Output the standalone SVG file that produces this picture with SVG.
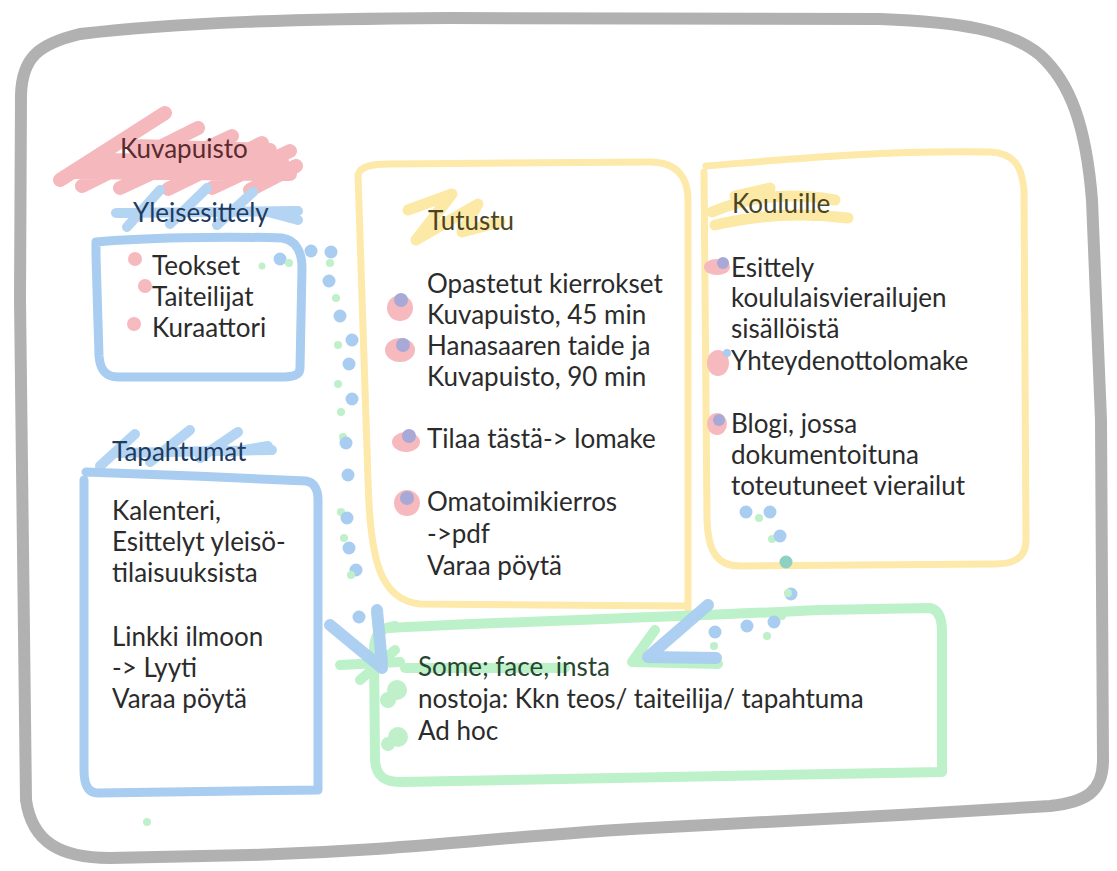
<svg xmlns="http://www.w3.org/2000/svg" width="1117" height="871" viewBox="0 0 1117 871">
<style>
text{font-family:Lato,"Noto Sans","Liberation Sans",sans-serif;font-size:26px;fill:#2b2b2b}
.frame{fill:none;stroke:#b1b1b1;stroke-width:12;stroke-linejoin:round;stroke-linecap:round}
.blue{fill:none;stroke:#a9ccf1;stroke-width:9;stroke-linejoin:round;stroke-linecap:round}
.yel{fill:none;stroke:#fde9a9;stroke-width:7;stroke-linejoin:round;stroke-linecap:round}
.grn{fill:none;stroke:#bdf1c9;stroke-width:10;stroke-linejoin:round;stroke-linecap:round}
.pinks{fill:none;stroke:#f5b9bd;stroke-width:14;stroke-linejoin:round;stroke-linecap:round}
.blues{fill:none;stroke:#b4d4f3;stroke-width:10;stroke-linejoin:round;stroke-linecap:round}
.yels{fill:none;stroke:#fde9a6;stroke-width:11;stroke-linejoin:round;stroke-linecap:round}
.pk{fill:#f6b9be}
.pu{fill:#a8a9d7}
.bd{fill:#a9ccf1}
.gd{fill:#bff0c9}
.arr{fill:none;stroke:#a9ccf1;stroke-width:12;stroke-linecap:round;stroke-linejoin:round;opacity:.95}
.garr{fill:none;stroke:#bdf1c9;stroke-width:10;stroke-linecap:round;stroke-linejoin:round}
</style>

<rect width="1117" height="871" fill="#ffffff"/>

<g id="frame">
<path class="frame" d="M 20,300 L 21,95 C 22,58 38,44 80,34 C 180,22 300,19 450,18 L 880,19 C 960,22 1010,30 1040,55 C 1070,82 1086,125 1092,200 L 1101,420 L 1103,760 C 1103,792 1086,802 1050,806 L 900,815 L 650,828 C 500,836 420,850 250,855 L 110,858 C 60,858 32,842 26,800 Z"/>
</g>

<g id="title">
<path class="pinks" d="M 60,180 L 165,113 M 82,186 L 198,128 M 120,188 L 232,136 M 168,189 L 262,143 M 212,188 L 290,151 M 250,190 L 296,166 M 75,172 L 290,174 M 100,160 L 282,161 M 135,146 L 270,150"/>
<text x="120" y="158" style="fill:#5b2a2e">Kuvapuisto</text>
</g>

<g id="yleisesittely">
<path class="blues" d="M 116,213 L 298,211 M 127,227 L 160,190 M 170,224 L 207,188 M 217,225 L 253,192 M 268,212 L 298,220"/>
<text x="133" y="222" style="fill:#1f3b5e">Yleisesittely</text>
<path class="blue" d="M 96,242 C 140,238 220,236 282,238 C 296,240 302,252 302,268 L 300,368 C 300,375 294,377 284,377 L 118,377 C 104,377 100,368 99,356 L 96,256 Z"/>
<circle class="pk" cx="135" cy="259" r="7"/>
<circle class="pk" cx="145" cy="286" r="7"/>
<circle class="pk" cx="134" cy="324" r="7"/>
<text x="152" y="275">Teokset</text>
<text x="152" y="306">Taiteilijat</text>
<text x="152" y="337">Kuraattori</text>
</g>

<g id="tapahtumat">
<path class="blues" d="M 118,453 L 272,450 M 100,466 L 135,434 M 150,462 L 190,430 M 200,458 L 238,432 M 232,452 L 268,446"/>
<text x="112" y="461" style="fill:#1f3b5e">Tapahtumat</text>
<path class="blue" d="M 86,472 C 150,474 240,478 306,481 C 314,482 318,490 318,500 L 318,790 L 98,793 C 88,793 84,785 84,770 L 84,480"/>
<text x="112" y="520">Kalenteri,</text>
<text x="112" y="551">Esittelyt yleisö-</text>
<text x="112" y="582">tilaisuuksista</text>
<text x="112" y="646">Linkki ilmoon</text>
<text x="112" y="677">-&gt; Lyyti</text>
<text x="112" y="708">Varaa pöytä</text>
</g>

<g id="tutustu">
<path class="yel" d="M 358,175 C 360,166 372,164 390,164 L 650,162 C 676,162 688,176 688,200 L 688,612 M 358,175 L 368,480 C 370,560 380,600 420,604 L 686,606"/>
<path class="yels" d="M 408,210 L 452,194 L 416,240 L 478,204 L 462,232 L 500,222"/>
<text x="428" y="230" style="fill:#4a4424">Tutustu</text>
<circle class="pk" cx="400" cy="308" r="13"/>
<circle class="pu" cx="401" cy="300" r="7"/>
<ellipse class="pk" cx="400" cy="350" rx="15" ry="12"/>
<circle class="pu" cx="403" cy="345" r="7"/>
<ellipse class="pk" cx="406" cy="442" rx="14" ry="10"/>
<circle class="pu" cx="409" cy="436" r="7"/>
<circle class="pk" cx="407" cy="503" r="13"/>
<circle class="pu" cx="407" cy="498" r="7"/>
<text x="427" y="293">Opastetut kierrokset</text>
<text x="427" y="324">Kuvapuisto, 45 min</text>
<text x="427" y="355">Hanasaaren taide ja</text>
<text x="427" y="386">Kuvapuisto, 90 min</text>
<text x="427" y="448">Tilaa tästä-&gt; lomake</text>
<text x="427" y="511">Omatoimikierros</text>
<text x="427" y="543">-&gt;pdf</text>
<text x="427" y="575">Varaa pöytä</text>
</g>

<g id="kouluille">
<path class="yel" d="M 706,166 C 780,160 880,150 990,152 C 1014,153 1022,166 1024,190 L 1026,540 C 1026,558 1014,564 995,564 L 740,566 C 716,566 708,550 707,520 L 704,172"/>
<path class="yels" d="M 712,212 C 740,200 780,190 835,200 M 715,225 C 760,215 800,212 848,218 M 735,196 L 770,188"/>
<text x="732" y="213" style="fill:#4a4424">Kouluille</text>
<ellipse class="pk" cx="717" cy="267" rx="13" ry="8"/>
<circle class="pu" cx="723" cy="263" r="6"/>
<ellipse class="pk" cx="718" cy="363" rx="11" ry="13"/>
<circle class="bd" cx="727" cy="353" r="4"/>
<ellipse class="pk" cx="717" cy="424" rx="10" ry="11"/>
<circle class="pu" cx="719" cy="420" r="6"/>
<text x="731" y="277">Esittely</text>
<text x="731" y="307">koululaisvierailujen</text>
<text x="731" y="338">sisällöistä</text>
<text x="731" y="370">Yhteydenottolomake</text>
<text x="731" y="433">Blogi, jossa</text>
<text x="731" y="464">dokumentoituna</text>
<text x="731" y="495">toteutuneet vierailut</text>
</g>

<g id="some">
<path class="grn" d="M 390,628 C 500,622 700,616 820,610 L 930,608 C 940,610 942,620 942,632 L 942,772 L 400,782 C 384,782 376,776 375,760 L 374,650 C 374,635 380,628 395,626"/>
<path class="grn" d="M 405,668 L 565,668"/>
<circle class="gd" cx="397" cy="690" r="10"/>
<circle class="gd" cx="388" cy="700" r="8"/>
<circle class="gd" cx="398" cy="737" r="10"/>
<circle class="gd" cx="388" cy="744" r="7"/>
<text x="418" y="676" style="fill:#27462f">Some; face, insta</text>
<text x="418" y="708">nostoja: Kkn teos/ taiteilija/ tapahtuma</text>
<text x="418" y="740">Ad hoc</text>
</g>

<g id="connectors">
<g id="conn-left">
<circle class="gd" cx="262" cy="266" r="3.5"/>
<circle class="bd" cx="280" cy="259" r="6.5"/>
<circle class="gd" cx="289" cy="263" r="4"/>
<circle class="bd" cx="311" cy="251" r="6.5"/>
<circle class="bd" cx="331" cy="252" r="6.5"/>
<circle class="gd" cx="330" cy="263" r="4"/>
<circle class="bd" cx="329" cy="281" r="6.5"/>
<circle class="gd" cx="336" cy="298" r="4"/>
<circle class="bd" cx="340" cy="316" r="6.5"/>
<circle class="bd" cx="352" cy="340" r="6.5"/>
<circle class="gd" cx="338" cy="345" r="4"/>
<circle class="bd" cx="349" cy="364" r="6.5"/>
<circle class="gd" cx="338" cy="384" r="4"/>
<circle class="bd" cx="352" cy="399" r="6.5"/>
<circle class="gd" cx="341" cy="412" r="4"/>
<circle class="gd" cx="343" cy="437" r="4"/>
<circle class="bd" cx="346" cy="443" r="6.5"/>
<circle class="bd" cx="348" cy="475" r="6.5"/>
<circle class="gd" cx="341" cy="512" r="4"/>
<circle class="bd" cx="347" cy="518" r="6.5"/>
<circle class="gd" cx="344" cy="538" r="4"/>
<circle class="bd" cx="349" cy="548" r="6.5"/>
<circle class="bd" cx="356" cy="570" r="6.5"/>
<circle class="gd" cx="351" cy="575" r="4"/>
<circle class="bd" cx="359" cy="617" r="6.5"/>
<path class="garr" d="M 340,665 L 400,662 M 360,680 L 395,650 M 376,612 L 382,660"/>
<path class="arr" d="M 330,625 L 382,668 M 377,610 L 382,664"/>
</g>
<g id="conn-right">
<circle class="bd" cx="746" cy="512" r="6.5"/>
<circle class="gd" cx="759" cy="518" r="4"/>
<circle class="bd" cx="770" cy="512" r="6.5"/>
<circle class="gd" cx="772" cy="539" r="4"/>
<circle class="bd" cx="780" cy="536" r="6.5"/>
<circle class="bd" cx="786" cy="562" r="6.5" style="fill:#8fd0c4"/>
<circle class="bd" cx="791" cy="594" r="6.5"/>
<circle class="gd" cx="788" cy="593" r="4"/>
<circle class="gd" cx="782" cy="616" r="4"/>
<circle class="bd" cx="774" cy="622" r="6.5"/>
<circle class="bd" cx="747" cy="626" r="6.5"/>
<circle class="gd" cx="767" cy="636" r="4"/>
<circle class="bd" cx="715" cy="632" r="6.5"/>
<circle class="gd" cx="714" cy="646" r="4"/>
<path class="garr" d="M 655,630 L 632,662 L 718,664"/>
<path class="arr" d="M 708,605 L 648,657 L 716,658"/>
</g>
</g>

<circle class="gd" cx="147" cy="822" r="4"/>
</svg>
